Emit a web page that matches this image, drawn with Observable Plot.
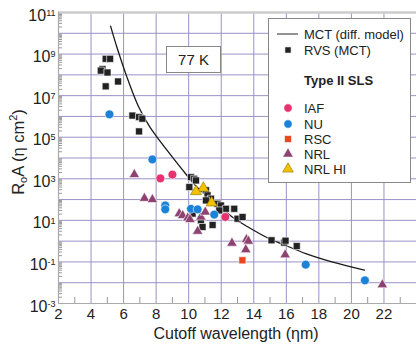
<!DOCTYPE html>
<html><head><meta charset="utf-8">
<script src="https://cdn.jsdelivr.net/npm/d3@7"></script>
<script src="https://cdn.jsdelivr.net/npm/@observablehq/plot@0.6"></script>
<style>
body{margin:0;background:#fff;font-family:"Liberation Sans",Arial,sans-serif;}
#wrap{position:relative;width:416px;height:349px;overflow:hidden;}
</style></head><body><div id="wrap"></div>
<script>
// MCT diffusion-model curve
const curveLambda = [5.2, 5.6, 6.2, 6.9, 7.6, 8.1, 9.0, 9.8, 10.5, 11.7, 12.7, 13.7, 14.8, 15.8, 17.2, 18.8, 20.8];
const curveR0A    = [2.2e10, 2.0e9, 8e7, 3.2e6, 3.2e5, 9e4, 1.1e4, 1.8e3, 400, 63, 14, 4.5, 1.5, 0.7, 0.25, 0.1, 0.04];
// RVS (MCT)
const rvsLambda = [4.90, 5.17, 4.70, 4.60, 5.01, 5.66, 4.90, 6.54, 6.95, 7.15, 6.95,
  10.14, 10.34, 10.45, 10.04, 11.06, 11.16, 11.37, 11.06, 11.77, 11.98, 12.29, 11.88, 12.80, 13.00, 13.31, 10.75, 10.85, 11.47, 10.24,
  15.09, 15.87, 15.95, 16.64];
const rvsR0A = [5.9e8, 5.9e8, 1.9e8, 1.6e8, 1.3e8, 4.8e7, 2.8e7, 1.1e6, 9.3e5, 7.8e5, 1.9e5,
  1200, 1000, 830, 400, 280, 160, 110, 91, 63, 52, 36, 30, 36, 12, 14.5, 10, 4.8, 6, 21,
  1.1, 0.85, 1.05, 0.58];
// Type II SLS
const iafLambda = [8.26, 9.0, 12.25];
const iafR0A    = [1050, 1600, 14.5];
const nuLambda  = [5.13, 7.77, 8.56, 8.56, 10.14, 10.55, 11.57, 17.19, 20.83];
const nuR0A     = [1.26e6, 8500, 52, 34, 36, 34, 19, 0.074, 0.013];
const rscLambda = [13.3];
const rscR0A    = [0.12];
const nrlLambda = [6.66, 7.28, 7.77, 9.42, 9.63, 9.94, 10.08, 10.75, 11.02, 10.55, 12.66, 13.55, 13.67, 13.51, 15.93, 21.9];
const nrlR0A    = [1600, 115, 100, 21, 17, 13, 11, 14.5, 25, 3, 0.8, 1.2, 1.0, 0.39, 0.22, 0.008];
const nrlhiLambda = [10.9, 10.45, 11.41];
const nrlhiR0A    = [355, 245, 70];
// axis ticks
const xLabelTicks = [2, 4, 6, 8, 10, 12, 14, 16, 18, 20, 22];
const xMinorTicks = [3, 5, 7, 9, 11, 13, 15, 17, 19, 21, 23];
const yDecades = [1e-3, 1e-2, 1e-1, 1, 1e1, 1e2, 1e3, 1e4, 1e5, 1e6, 1e7, 1e8, 1e9, 1e10, 1e11];
const yLabelTicks = [1e-3, 1e-1, 1e1, 1e3, 1e5, 1e7, 1e9, 1e11];
const seriesNames = ["MCT (diff. model)", "RVS (MCT)", "Type II SLS", "IAF", "NU", "RSC", "NRL", "NRL HI"];

const colors = {rvs: "#222222", iaf: "#e6336f", nu: "#1b82d8", rsc: "#e8481c", nrl: "#8e4272", nrlhi: "#f2c200"};
const gridColor = "#9a92c6";

const pts = (xs, ys) => xs.map((x, i) => ({x, y: ys[i]}));
const curve = pts(curveLambda, curveR0A);
const minorY = d3.scaleLog().domain([1e-3, 1e11]).ticks(200).filter(v => Math.abs(Math.log10(v) - Math.round(Math.log10(v))) > 1e-6);

const dotOpts = (color, symbol, r, stroke = "white", sw = 0.6) => ({x: "x", y: "y", symbol, r, fill: color, stroke, strokeWidth: sw});

const chart = Plot.plot({
  width: 416, height: 349,
  marginLeft: 58, marginRight: 0, marginTop: 12, marginBottom: 46,
  style: {fontFamily: "'Liberation Sans', Arial, sans-serif", background: "white", color: "#222"},
  x: {domain: [2, 24], label: null},
  y: {type: "log", domain: [1e-3, 1e11], label: null},
  marks: [
    Plot.gridY(yDecades, {stroke: gridColor, strokeOpacity: 1, strokeWidth: 1}),
    Plot.gridX(xLabelTicks.slice(1), {stroke: gridColor, strokeOpacity: 1, strokeWidth: 1}),
    Plot.tickY(minorY, {y: d => d, stroke: "#999", insetRight: 354}),
    Plot.tickX(xMinorTicks, {x: d => d, stroke: "#999", insetTop: 285}),
    Plot.ruleY([1e11], {stroke: "#cccccc", strokeWidth: 2.5}),
    Plot.ruleX([2], {stroke: "#aaaaaa", strokeWidth: 1.2}),
    Plot.ruleY([1e-3], {stroke: "#aaaaaa", strokeWidth: 1.2}),
    Plot.axisY(yLabelTicks, {tickSize: 0, tickPadding: 3, fontSize: 16, dy: 3, label: null,
      tickFormat: d => String(Math.round(Math.log10(d)))}),
    Plot.axisX(xLabelTicks, {tickSize: 0, tickPadding: 5, fontSize: 15, label: null}),
    Plot.line(curve, {x: "x", y: "y", curve: "catmull-rom", stroke: "#1a1a1a", strokeWidth: 1.3}),
    Plot.dot(pts(rvsLambda, rvsR0A), dotOpts(colors.rvs, "square", 3.95)),
    Plot.dot(pts(nrlLambda, nrlR0A), dotOpts(colors.nrl, "triangle", 3.9)),
    Plot.dot(pts(nuLambda, nuR0A), dotOpts(colors.nu, "circle", 4.4)),
    Plot.dot(pts(iafLambda, iafR0A), dotOpts(colors.iaf, "circle", 4.4)),
    Plot.dot(pts(rscLambda, rscR0A), dotOpts(colors.rsc, "square", 4.0)),
    Plot.dot(pts(nrlhiLambda, nrlhiR0A), dotOpts(colors.nrlhi, "triangle", 4.1, "#8a7000", 0.6))
  ]
});
document.getElementById("wrap").appendChild(chart);

const svg = d3.select(chart);
// superscript tick labels
svg.selectAll('g[aria-label="y-axis tick label"] text').each(function() {
  const t = d3.select(this);
  const exp = t.text();
  t.text(null);
  t.append("tspan").text("10");
  t.append("tspan").attr("dy", "-0.55em").attr("font-size", 9).text(exp);
});

// axis titles
svg.append("text").attr("x", 236).attr("y", 339).attr("text-anchor", "middle")
  .attr("font-size", 16).attr("fill", "#222").text("Cutoff wavelength (ηm)");
const yt = svg.append("text").attr("transform", "translate(24,152) rotate(-90)")
  .attr("text-anchor", "middle").attr("font-size", 16.5).attr("fill", "#222");
yt.append("tspan").text("R");
yt.append("tspan").attr("font-size", 11).attr("dy", 3).text("o");
yt.append("tspan").attr("dy", -3).text("A (η cm");
yt.append("tspan").attr("font-size", 11).attr("dy", -7).text("2");
yt.append("tspan").attr("dy", 7).text(")");

// 77 K box
svg.append("rect").attr("x", 166.5).attr("y", 46.5).attr("width", 54).attr("height", 26)
  .attr("fill", "white").attr("stroke", "#888").attr("stroke-width", 1);
svg.append("text").attr("x", 193.5).attr("y", 65).attr("text-anchor", "middle")
  .attr("font-size", 15).attr("fill", "#222").text("77 K");

// legend
const lg = svg.append("g").attr("text-anchor", "start");
lg.append("rect").attr("x", 268.5).attr("y", 18.5).attr("width", 142).attr("height", 164)
  .attr("fill", "#ffffff").attr("stroke", "#888888").attr("stroke-width", 1);
const rowsY = [34, 50, 80, 108, 124, 139, 154, 169];
const sx = 288, tx = 304;
lg.append("line").attr("x1", 277).attr("x2", 298).attr("y1", rowsY[0]).attr("y2", rowsY[0])
  .attr("stroke", "#777777").attr("stroke-width", 1.6);
const sym = (type, size) => d3.symbol().type(type).size(size)();
const legendSyms = [
  [1, d3.symbolSquare, 38, colors.rvs, "white"],
  [3, d3.symbolCircle, 55, colors.iaf, "white"],
  [4, d3.symbolCircle, 55, colors.nu, "white"],
  [5, d3.symbolSquare, 48, colors.rsc, "white"],
  [6, d3.symbolTriangle, 50, colors.nrl, "white"],
  [7, d3.symbolTriangle, 50, colors.nrlhi, "#8a7000"]
];
for (const [i, type, size, fill, stroke] of legendSyms) {
  lg.append("path").attr("d", sym(type, size)).attr("transform", `translate(${sx},${rowsY[i]})`)
    .attr("fill", fill).attr("stroke", stroke).attr("stroke-width", 0.6);
}
seriesNames.forEach((name, i) => {
  lg.append("text").attr("x", tx).attr("y", rowsY[i]).attr("dy", "0.36em")
    .attr("text-anchor", "start")
    .attr("font-size", 13).attr("fill", "#222")
    .attr("font-weight", i === 2 ? "bold" : null).text(name);
});
</script></body></html>
